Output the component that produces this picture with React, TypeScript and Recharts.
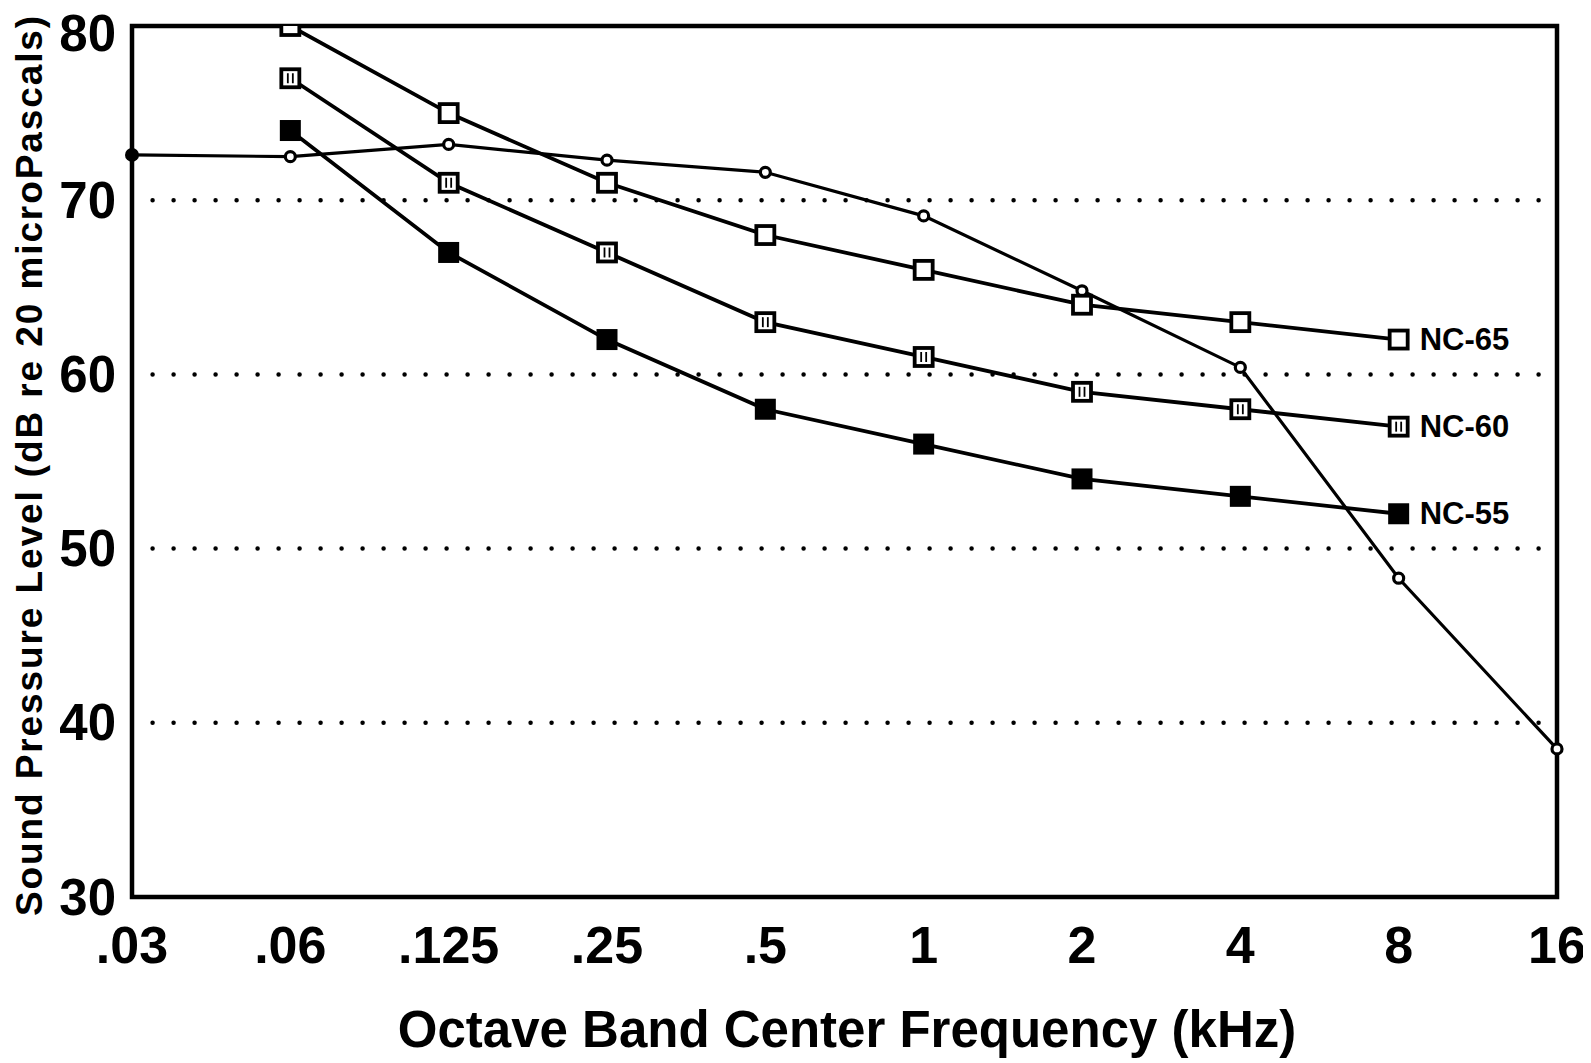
import React from 'react';
import { LineChart, Line, XAxis, YAxis, ReferenceLine, ReferenceArea } from 'recharts';

const freqLabels = ['.03', '.06', '.125', '.25', '.5', '1', '2', '4', '8', '16'];
const measured = [72.6, 72.5, 73.2, 72.3, 71.6, 69.1, 64.8, 60.4, 48.3, 38.5];
const nc65 = [null, 80, 75, 71, 68, 66, 64, 63, 62, null];
const nc60 = [null, 77, 71, 67, 63, 61, 59, 58, 57, null];
const nc55 = [null, 74, 67, 62, 58, 56, 54, 53, 52, null];
const yTicks = [30, 40, 50, 60, 70, 80];
const gridValues = [40, 50, 60, 70];
const ncNames = { nc65: 'NC-65', nc60: 'NC-60', nc55: 'NC-55' };

const data = freqLabels.map((f, i) => ({
  i,
  measured: measured[i],
  nc65: nc65[i],
  nc60: nc60[i],
  nc55: nc55[i],
}));

const FONT = '"Liberation Sans", Arial, Helvetica, sans-serif';
const W = 1583;
const H = 1055;

const EndLabel = ({ cx, cy, text }: any) => (
  <text
    x={cx + 21}
    y={cy}
    dominantBaseline="central"
    fontFamily={FONT}
    fontWeight="bold"
    fontSize={31}
    fill="#000"
  >
    {text}
  </text>
);

const Open65 = (props: any) => {
  const { cx, cy, index } = props;
  if (cx == null || cy == null || props.value == null) return <g key={`o65-${index}`} />;
  return (
    <g key={`o65-${index}`}>
      <rect x={cx - 9} y={cy - 9} width={18} height={18} fill="#fff" stroke="#000" strokeWidth={3.8} />
      {index === 8 && <EndLabel cx={cx} cy={cy} text={ncNames.nc65} />}
    </g>
  );
};

const Hatch60 = (props: any) => {
  const { cx, cy, index } = props;
  if (cx == null || cy == null || props.value == null) return <g key={`h60-${index}`} />;
  return (
    <g key={`h60-${index}`}>
      <rect x={cx - 9} y={cy - 9} width={18} height={18} fill="#fff" stroke="#000" strokeWidth={3.8} />
      <line x1={cx - 2.5} y1={cy - 5} x2={cx - 2.5} y2={cy + 5} stroke="#000" strokeWidth={1.8} />
      <line x1={cx + 2.5} y1={cy - 5} x2={cx + 2.5} y2={cy + 5} stroke="#000" strokeWidth={1.8} />
      {index === 8 && <EndLabel cx={cx} cy={cy} text={ncNames.nc60} />}
    </g>
  );
};

const Filled55 = (props: any) => {
  const { cx, cy, index } = props;
  if (cx == null || cy == null || props.value == null) return <g key={`f55-${index}`} />;
  return (
    <g key={`f55-${index}`}>
      <rect x={cx - 10.5} y={cy - 10.5} width={21} height={21} fill="#000" />
      {index === 8 && <EndLabel cx={cx} cy={cy} text={ncNames.nc55} />}
    </g>
  );
};

const SmallCircle = (props: any) => {
  const { cx, cy, index } = props;
  if (cx == null || cy == null) return <g key={`c-${index}`} />;
  if (index === 0) {
    return <circle key={`c-${index}`} cx={cx} cy={cy} r={7} fill="#000" />;
  }
  return <circle key={`c-${index}`} cx={cx} cy={cy} r={5} fill="#fff" stroke="#000" strokeWidth={3.2} />;
};

const YTick = (props: any) => {
  const { x, y, payload } = props;
  const shift = payload.value === 80 ? 7 : 0;
  return (
    <text
      x={x}
      y={y + shift}
      textAnchor="end"
      dominantBaseline="central"
      fontFamily={FONT}
      fontWeight="bold"
      fontSize={51}
      fill="#000"
    >
      {payload.value}
    </text>
  );
};

const XTitle = () => (
  <text
    x={839}
    y={1039}
    textAnchor="middle"
    fontFamily={FONT}
    fontWeight="bold"
    fontSize={51}
    fill="#000"
  >
    Octave Band Center Frequency (kHz)
  </text>
);

const YTitle = () => (
  <text
    x={34}
    y={457}
    transform="rotate(-90 34 457)"
    textAnchor="middle"
    fontFamily={FONT}
    fontWeight="bold"
    fontSize={37}
    letterSpacing={1.9}
    fill="#000"
  >
    Sound Pressure Level (dB re 20 microPascals)
  </text>
);

export default function App() {
  return (
    <div style={{ width: W, height: H, background: '#fff' }}>
      <style>{'.recharts-surface{overflow:visible}'}</style>
      <LineChart
        width={W}
        height={H}
        data={data}
        margin={{ top: 18, right: 34, left: 14, bottom: 0 }}
      >
        <XAxis
          dataKey="i"
          type="number"
          domain={[0, 9]}
          ticks={[0, 1, 2, 3, 4, 5, 6, 7, 8, 9]}
          tickFormatter={(v: number) => freqLabels[v]}
          height={166}
          axisLine={false}
          tickLine={false}
          tickSize={0}
          tickMargin={29}
          interval={0}
          tick={{ fill: '#000', fontSize: 52, fontWeight: 'bold', fontFamily: FONT }}
          label={<XTitle />}
        />
        <YAxis
          type="number"
          domain={[30, 80]}
          ticks={yTicks}
          width={110}
          axisLine={false}
          tickLine={false}
          tickSize={0}
          tickMargin={16}
          interval={0}
          allowDataOverflow
          tick={<YTick />}
          label={<YTitle />}
        />
        {gridValues.map((v) => (
          <ReferenceLine
            key={v}
            segment={[{ x: 0.13, y: v }, { x: 9, y: v }]}
            stroke="#000"
            strokeWidth={4.5}
            strokeDasharray="0 21"
            strokeLinecap="round"
          />
        ))}
        <ReferenceArea
          x1={0}
          x2={9}
          y1={30}
          y2={80}
          fill="none"
          fillOpacity={0}
          stroke="#000"
          strokeWidth={4.5}
          strokeOpacity={1}
        />
        <Line
          dataKey="measured"
          stroke="#000"
          strokeWidth={3.2}
          dot={<SmallCircle />}
          activeDot={false}
          isAnimationActive={false}
        />
        <Line
          dataKey="nc65"
          stroke="#000"
          strokeWidth={3.8}
          dot={<Open65 />}
          activeDot={false}
          isAnimationActive={false}
        />
        <Line
          dataKey="nc60"
          stroke="#000"
          strokeWidth={3.8}
          dot={<Hatch60 />}
          activeDot={false}
          isAnimationActive={false}
        />
        <Line
          dataKey="nc55"
          stroke="#000"
          strokeWidth={3.8}
          dot={<Filled55 />}
          activeDot={false}
          isAnimationActive={false}
        />
      </LineChart>
    </div>
  );
}
